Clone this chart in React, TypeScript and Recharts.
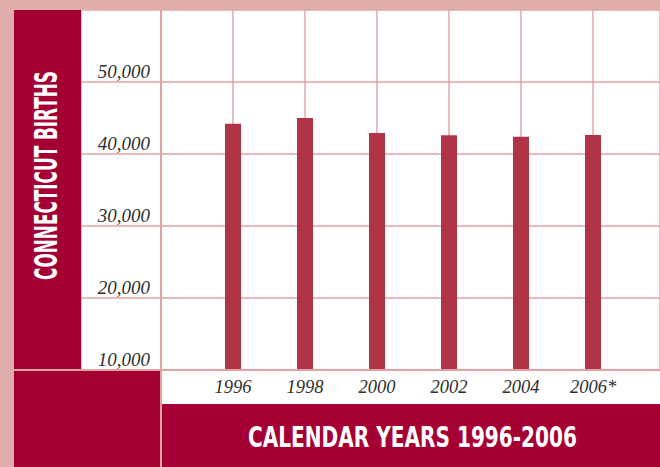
import { Bar, BarChart, CartesianGrid, ReferenceLine, XAxis, YAxis } from 'recharts';

// births by calendar year
const years = [1996, 1998, 2000, 2002, 2004, 2006];
const births = [44200, 45000, 42900, 42600, 42400, 42650];
const yearLabels = ['1996', '1998', '2000', '2002', '2004', '2006*'];
const birthTicks = [10000, 20000, 30000, 40000, 50000];

const rows = years.map((year, i) => ({ year, births: births[i], label: yearLabels[i] }));

const CRIMSON = '#a50034';
const FRAME = '#dfaeab';
const GRID = '#e2a2a4';
const BAR = '#b03448';
const LABEL_FONT = "'Liberation Serif', 'DejaVu Serif', serif";
const TITLE_FONT = "'DejaVu Sans Condensed', 'DejaVu Sans', 'Liberation Sans', sans-serif";

function YearTick({ x, payload }: any) {
  const i = years.indexOf(payload.value);
  return (
    <text x={x} y={383} textAnchor="middle" fontFamily={LABEL_FONT} fontStyle="italic" fontSize={18.5} fill="#2e2e2e">
      {i >= 0 ? yearLabels[i] : payload.value}
    </text>
  );
}

function BirthTick({ y, payload }: any) {
  return (
    <text x={69} y={y - 4} textAnchor="end" fontFamily={LABEL_FONT} fontStyle="italic" fontSize={19} fill="#2e2e2e">
      {Number(payload.value).toLocaleString('en-US')}
    </text>
  );
}

export default function App() {
  return (
    <div style={{ position: 'absolute', left: 0, top: 0, width: 660, height: 467, background: FRAME, overflow: 'hidden' }}>
      {/* crimson side panel and bottom blocks */}
      <div style={{ position: 'absolute', left: 14, top: 10, width: 67, height: 457, background: CRIMSON }} />
      <div style={{ position: 'absolute', left: 14, top: 370, width: 147, height: 97, background: CRIMSON }} />
      <div style={{ position: 'absolute', left: 81, top: 10, width: 579, height: 360, background: '#fff' }} />
      <div style={{ position: 'absolute', left: 161, top: 370, width: 499, height: 34, background: '#fff' }} />
      <div style={{ position: 'absolute', left: 161, top: 404, width: 499, height: 63, background: CRIMSON }} />

      <div style={{ position: 'absolute', left: 81, top: 10 }}>
        <BarChart width={579} height={394} data={rows} margin={{ top: 0, right: 0, bottom: 34, left: 0 }}>
          <CartesianGrid stroke={GRID} strokeWidth={1.4} />
          <XAxis
            dataKey="year"
            type="number"
            domain={[1994 - 80 / 36, 1994 + 499 / 36]}
            ticks={years}
            mirror
            axisLine={false}
            tickLine={false}
            tick={<YearTick />}
            allowDataOverflow
          />
          <YAxis
            domain={[10000, 60000]}
            ticks={birthTicks}
            mirror
            width={80}
            axisLine={false}
            tickLine={false}
            tick={<BirthTick />}
            allowDataOverflow
          />
          <ReferenceLine x={1994} stroke={GRID} strokeWidth={1.4} />
          <Bar dataKey="births" fill={BAR} barSize={16} isAnimationActive={false} />
        </BarChart>
      </div>

      {/* frame lines that run into the crimson blocks */}
      <div style={{ position: 'absolute', left: 14, top: 369.3, width: 646, height: 1.4, background: GRID }} />
      <div style={{ position: 'absolute', left: 160.3, top: 10, width: 1.4, height: 457, background: GRID }} />

      <svg style={{ position: 'absolute', left: 0, top: 0 }} width={660} height={467}>
        <text
          x={0}
          y={0}
          transform="translate(56.5 175.5) rotate(-90)"
          textAnchor="middle"
          fontFamily={TITLE_FONT}
          fontWeight="bold"
          fontSize={32}
          fill="#fff"
          textLength={209}
          lengthAdjust="spacingAndGlyphs"
        >
          CONNECTICUT BIRTHS
        </text>
        <text
          x={412.5}
          y={446.5}
          textAnchor="middle"
          fontFamily={TITLE_FONT}
          fontWeight="bold"
          fontSize={29}
          fill="#fff"
          textLength={329}
          lengthAdjust="spacingAndGlyphs"
        >
          CALENDAR YEARS 1996-2006
        </text>
      </svg>
    </div>
  );
}
